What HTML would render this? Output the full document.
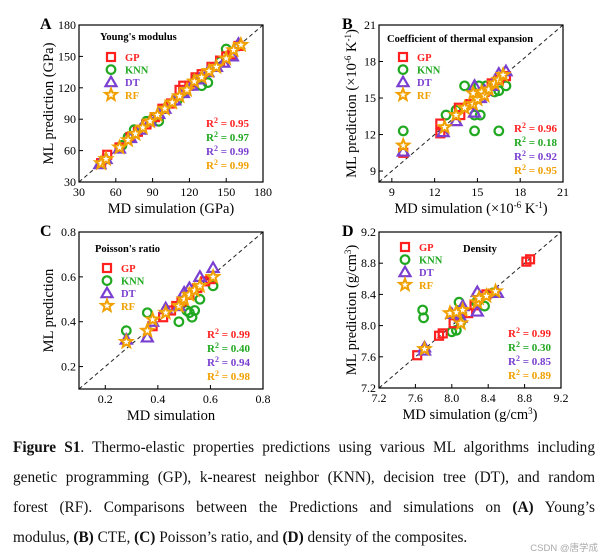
<!DOCTYPE html>
<html><head><meta charset="utf-8"><style>
body{margin:0;background:#fff;width:606px;height:558px;overflow:hidden;position:relative;font-family:"Liberation Serif",serif}
#cap{position:absolute;left:13px;top:433px;width:582px;font-size:15.3px;line-height:30px;color:#111}
#cap div{text-align:justify;text-align-last:justify;white-space:nowrap}
#cap div.last{text-align-last:left}
svg text{font-family:"Liberation Serif",serif}
</style></head><body>
<svg id="fig" width="606" height="430" style="position:absolute;left:0;top:0"></svg>
<div id="cap">
<div style="white-space:normal"><b>Figure S1</b>. Thermo-elastic properties predictions using various ML algorithms including</div>
<div style="white-space:normal">genetic programming (GP), k-nearest neighbor (KNN), decision tree (DT), and random</div>
<div style="white-space:normal">forest (RF). Comparisons between the Predictions and simulations on <b>(A)</b> Young’s</div>
<div class="last">modulus, <b>(B)</b> CTE, <b>(C)</b> Poisson’s ratio, and <b>(D)</b> density of the composites.</div>
</div>
<script>
// Panel A data
const aGP=[[48,48],[53,56],[63,63],[72,73],[78,78],[85,85],[92,92],[98,100],[105,105],[112,118],[115,122],[120,122],[125,130],[130,133],[138,140],[145,146],[150,150],[155,152],[160,160]];
const aKNN=[[48,48],[65,65],[70,73],[75,80],[85,88],[90,90],[95,88],[100,100],[110,108],[115,115],[125,128],[130,122],[135,125],[145,145],[150,157],[160,160]];
const aDT=[[47,47],[52,52],[63,62],[72,72],[80,80],[88,88],[95,95],[100,100],[108,108],[115,115],[122,122],[128,128],[135,135],[142,140],[148,144],[155,150],[160,162]];
const aRF=[[48,48],[52,52],[63,63],[70,70],[76,76],[82,82],[88,88],[94,94],[100,100],[106,106],[112,112],[118,118],[124,126],[130,130],[136,136],[142,140],[150,148],[156,156],[162,161]];
const aR2=["0.95","0.97","0.99","0.99"];
// Panel B data
const bGP=[[9.8,10.5],[12.4,12.1],[12.4,12.9],[13.7,14.2],[13.8,13.6],[14.5,14.5],[15,15],[15.5,15.5],[16,16.2],[16.5,16.5],[17,16.8]];
const bKNN=[[9.8,12.3],[12.8,13.6],[13.5,14],[14.1,16],[14.8,12.3],[14.8,13.6],[15.1,16],[15.2,13.6],[15.6,16],[16.5,12.3],[16.2,15.5],[16.5,15.6],[17,16]];
const bDT=[[9.8,10.6],[12.6,12.2],[13.5,13.1],[14.8,13.8],[14.8,16],[15.2,15],[15.5,15.6],[16,16],[16.5,17],[17,17.2]];
const bRF=[[9.8,11.1],[12.7,12.6],[13.5,13.6],[14.1,14.2],[14.7,14.5],[14.7,15.4],[15,14.9],[15.3,15.5],[15.5,15.2],[15.8,15.7],[16.2,16.2],[16.5,16.5],[16.8,16.9]];
const bR2=["0.96","0.18","0.92","0.95"];
// Panel C data
const cGP=[[0.38,0.38],[0.42,0.42],[0.45,0.45],[0.47,0.47],[0.49,0.49],[0.52,0.52],[0.55,0.55],[0.58,0.58],[0.6,0.59]];
const cKNN=[[0.28,0.36],[0.36,0.44],[0.48,0.40],[0.51,0.45],[0.52,0.44],[0.53,0.42],[0.54,0.45],[0.56,0.50],[0.61,0.56]];
const cDT=[[0.28,0.32],[0.36,0.33],[0.38,0.40],[0.43,0.46],[0.48,0.47],[0.5,0.53],[0.52,0.55],[0.56,0.6],[0.61,0.64]];
const cRF=[[0.28,0.31],[0.36,0.36],[0.38,0.41],[0.43,0.44],[0.48,0.47],[0.5,0.50],[0.52,0.52],[0.54,0.54],[0.56,0.56],[0.61,0.6]];
const cR2=["0.99","0.40","0.94","0.98"];
// Panel D data
const dGP=[[7.62,7.62],[7.86,7.87],[7.9,7.9],[8.02,8.03],[8.18,8.16],[8.25,8.26],[8.38,8.4],[8.82,8.82],[8.86,8.85]];
const dKNN=[[7.68,8.2],[7.69,8.1],[8.0,7.92],[8.05,7.94],[8.08,8.3],[8.1,8.05],[8.27,8.3],[8.36,8.25],[8.45,8.42]];
const dDT=[[7.7,7.72],[7.7,7.68],[8.0,8.15],[8.1,8.1],[8.12,8.25],[8.28,8.43],[8.28,8.18],[8.5,8.42]];
const dRF=[[7.7,7.7],[7.98,8.16],[8.05,8.17],[8.1,8.03],[8.12,8.2],[8.28,8.3],[8.3,8.35],[8.38,8.38],[8.48,8.44]];
const dR2=["0.99","0.30","0.85","0.89"];
const aTicks=["30","60","90","120","150","180"];
const bTicks=["9","12","15","18","21"];
const cTicks=["0.2","0.4","0.6","0.8"];
const dTicks=["7.2","7.6","8.0","8.4","8.8","9.2"];

const NS="http://www.w3.org/2000/svg";
const svg=document.getElementById('fig');
const COL={GP:"#ff2020",KNN:"#20a820",DT:"#7a3fd0",RF:"#f0a000"};
function mk(tag,at,parent){const e=document.createElementNS(NS,tag);for(const k in at)e.setAttribute(k,at[k]);(parent||svg).appendChild(e);return e;}
function marker(g,type,x,y){
  let e;
  if(type==="GP"){e=mk('rect',{x:x-4,y:y-4,width:8,height:8,fill:"none",stroke:COL.GP,'stroke-width':2.2},g);}
  else if(type==="KNN"){e=mk('circle',{cx:x,cy:y,r:4.3,fill:"none",stroke:COL.KNN,'stroke-width':2.2},g);}
  else if(type==="DT"){e=mk('polygon',{points:`${x},${y-5.5} ${x+5.5},${y+4} ${x-5.5},${y+4}`,fill:"none",stroke:COL.DT,'stroke-width':2.2},g);}
  else{let p=[];for(let i=0;i<10;i++){const r=i%2?2.6:6.2,a=-Math.PI/2+i*Math.PI/5;p.push((x+r*Math.cos(a)).toFixed(1)+","+(y+r*Math.sin(a)).toFixed(1));}
    e=mk('polygon',{points:p.join(" "),fill:"#fff",stroke:COL.RF,'stroke-width':2},g);}
  return e;
}
function txt(s,at,parent){const t=mk('text',at,parent);t.innerHTML=s;return t;}

function panel(o){
  const g=mk('g',{});
  
  
  const X=v=>o.L+(v-o.min)/(o.max-o.min)*(o.R-o.L);
  const Y=v=>o.B-(v-o.min)/(o.max-o.min)*(o.B-o.T);
  const dg=mk('line',{x1:X(o.min),y1:Y(o.min),x2:X(o.max),y2:Y(o.max),stroke:"#222",'stroke-width':1,'stroke-dasharray':"4,3"},g);
  
  
  [["KNN",o.KNN],["GP",o.GP],["DT",o.DT],["RF",o.RF]].forEach(([k,arr])=>{
    const sg=mk('g',{},g);
    
    
    arr.forEach(p=>{const m=marker(sg,k,X(p[0]),Y(p[1]));
      
      });
  });
  const fr=mk('rect',{x:o.L,y:o.T,width:o.R-o.L,height:o.B-o.T,fill:"none",stroke:"#000",'stroke-width':1.2},g);
  
  
  o.ticks.forEach(s=>{const v=parseFloat(s);
    mk('line',{x1:X(v),y1:o.B,x2:X(v),y2:o.B-4,stroke:"#000"},g);
    mk('line',{x1:o.L,y1:Y(v),x2:o.L+4,y2:Y(v),stroke:"#000"},g);
    const tx=txt(s,{x:X(v),y:o.B+14,'font-size':12,'text-anchor':"middle"},g);
    
    
    const ty=txt(s,{x:o.L-3,y:Y(v)+4,'font-size':12,'text-anchor':"end"},g);
    
    
  });
  const xt=txt(o.xt,{x:(o.L+o.R)/2,y:o.B+31,'font-size':14.5,'text-anchor':"middle"},g);
  
  
  const cy=(o.T+o.B)/2;
  const yt=txt(o.yt,{x:o.yx,y:cy,'font-size':14.5,'text-anchor':"middle",transform:`rotate(-90 ${o.yx} ${cy})`},g);
  
  
  const lt=txt(o.letter,{x:o.lx,y:o.T+4,'font-size':16,'font-weight':"bold"},g);
  
  
  const tt=txt(o.title,{x:o.tx,y:o.ty,'font-size':10.5,'font-weight':"bold"},g);
  
  
  ["GP","KNN","DT","RF"].forEach((k,i)=>{
    const y=o.ly+i*12.6;
    const m=marker(g,k,o.lmx,y);
    
    
    const l=txt(k,{x:o.lmx+14,y:y+4,'font-size':10.5,'font-weight':"bold",fill:COL[k]},g);
    
    
    const r=txt(`R<tspan dy="-4" font-size="8">2</tspan><tspan dy="4"> = ${o.r2[i]}</tspan>`,{x:o.rx,y:o.ry+i*14,'font-size':11,'font-weight':"bold",fill:COL[k]},g);
    
    
  });
}
panel({letter:"A",lx:40,L:79,R:263,T:25,B:182,min:30,max:180,ticks:aTicks,GP:aGP,KNN:aKNN,DT:aDT,RF:aRF,r2:aR2,
  xt:"MD simulation (GPa)",yt:"ML prediction (GPa)",yx:53,title:"Young's modulus",tx:100,ty:40,lmx:111,ly:57,rx:206,ry:127});
panel({letter:"B",lx:342,L:379,R:563,T:25,B:182,min:8.1,max:21,ticks:bTicks,GP:bGP,KNN:bKNN,DT:bDT,RF:bRF,r2:bR2,
  xt:"MD simulation (×10<tspan dy='-5' font-size='9'>-6</tspan><tspan dy='5'> K</tspan><tspan dy='-5' font-size='9'>-1</tspan><tspan dy='5'>)</tspan>",
  yt:"ML prediction (×10<tspan dy='-5' font-size='9'>-6</tspan><tspan dy='5'> K</tspan><tspan dy='-5' font-size='9'>-1</tspan><tspan dy='5'>)</tspan>",yx:356,
  title:"Coefficient of thermal expansion",tx:387,ty:42,lmx:403,ly:57,rx:514,ry:132});
panel({letter:"C",lx:40,L:79,R:263,T:232,B:389,min:0.1,max:0.8,ticks:cTicks,GP:cGP,KNN:cKNN,DT:cDT,RF:cRF,r2:cR2,
  xt:"MD simulation",yt:"ML prediction",yx:53,title:"Poisson's ratio",tx:95,ty:252,lmx:107,ly:268,rx:207,ry:338});
panel({letter:"D",lx:342,L:379,R:561,T:232,B:388,min:7.2,max:9.2,ticks:dTicks,GP:dGP,KNN:dKNN,DT:dDT,RF:dRF,r2:dR2,
  xt:"MD simulation (g/cm<tspan dy='-5' font-size='9'>3</tspan><tspan dy='5'>)</tspan>",
  yt:"ML prediction (g/cm<tspan dy='-5' font-size='9'>3</tspan><tspan dy='5'>)</tspan>",yx:356,
  title:"Density",tx:463,ty:252,lmx:405,ly:247,rx:508,ry:337});
</script>
<div style="position:absolute;right:8px;bottom:4px;font:9.5px 'Liberation Sans','Noto Sans CJK SC',sans-serif;color:#aaa">CSDN @唐学成</div>
</body></html>
